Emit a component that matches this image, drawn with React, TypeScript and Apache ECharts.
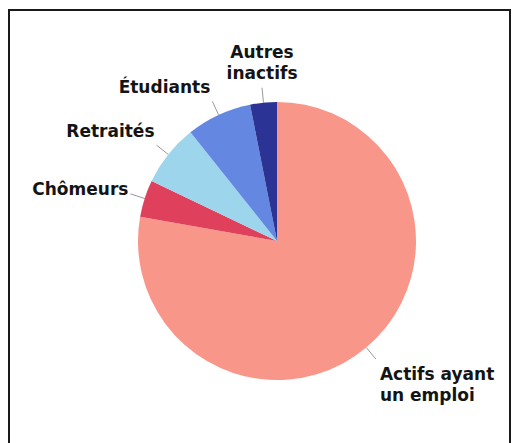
import React, { useEffect, useRef } from "react";
import * as echarts from "echarts";

const categories = ["Actifs ayant\nun emploi", "Chômeurs", "Retraités", "Étudiants", "Autres\ninactifs"];
const values = [77.8, 4.3, 7.2, 7.6, 3.1];
const colors = ["#F8968A", "#DF405C", "#9DD5EC", "#6487E1", "#2B3495"];

export default function App() {
  const ref = useRef<HTMLDivElement>(null);
  useEffect(() => {
    const chart = echarts.init(ref.current!, null, { renderer: "svg" });
    chart.setOption({
      animation: false,
      backgroundColor: "#ffffff",
      graphic: [
        {
          type: "rect",
          shape: { x: 9, y: 10, width: 501, height: 460 },
          style: { fill: "none", stroke: "#1a1a1a", lineWidth: 2 },
          silent: true,
        },
      ],
      series: [
        {
          type: "pie",
          center: [277, 241],
          radius: [0, 139],
          startAngle: 90,
          clockwise: true,
          avoidLabelOverlap: false,
          data: categories.map((c, i) => ({ name: c, value: values[i], itemStyle: { color: colors[i] } })),
          itemStyle: { borderWidth: 0 },
          label: {
            show: true,
            position: "outside",
            formatter: "{b}",
            fontFamily: "DejaVu Sans",
            fontWeight: "bold",
            fontSize: 17,
            lineHeight: 21,
            color: "#141414",
          },
          labelLine: {
            show: true,
            length: 15,
            length2: 0,
            smooth: false,
            lineStyle: { color: "#9a9a9a", width: 1 },
          },
          labelLayout: (p: any) => {
            const pts = p.labelLinePoints;
            if (!pts || pts.length < 2) return {};
            const a = pts[0];
            const b = pts[1];
            const dx = b[0] - a[0];
            const dy = b[1] - a[1];
            const len = Math.sqrt(dx * dx + dy * dy) || 1;
            const s = dx / len;
            const c = dy / len;
            let align = "center";
            let vAlign = "middle";
            let x = b[0];
            let y = b[1];
            if (Math.abs(s) >= 0.3) {
              align = s < 0 ? "right" : "left";
              x += s < 0 ? -2 : 4;
            }
            if (Math.abs(c) >= 0.4) {
              vAlign = c < 0 ? "bottom" : "top";
              y += c < 0 ? -4 : 4;
            } else {
              y -= 5;
            }
            return {
              x,
              y,
              align,
              verticalAlign: vAlign,
              labelLinePoints: [a, b, b],
            };
          },
        },
      ],
    });
    return () => chart.dispose();
  }, []);
  return (
    <div
      ref={ref}
      style={{ position: "fixed", left: 0, top: 0, width: 513, height: 443, background: "#fff" }}
    />
  );
}
